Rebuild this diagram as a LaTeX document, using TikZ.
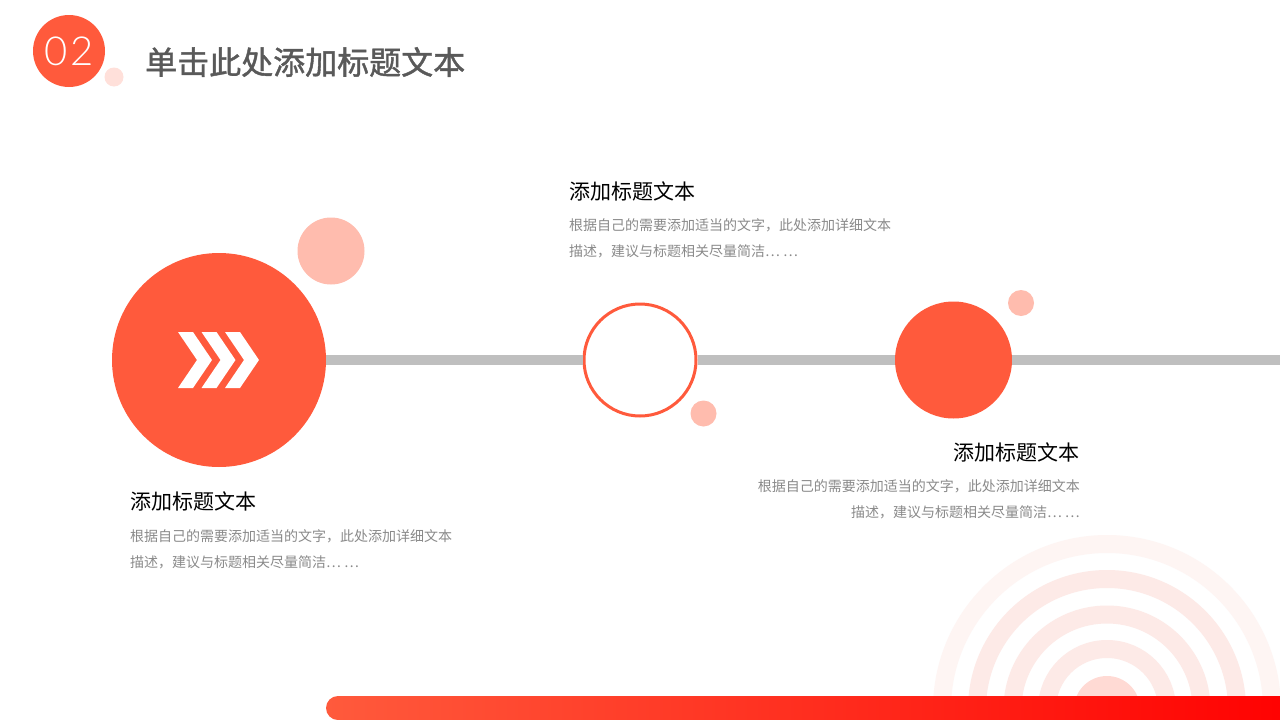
\documentclass[tikz,border=0pt]{standalone}
\usepackage{fontspec}
\setmainfont{Noto Sans CJK SC}
\newfontfamily\thinfont{Lato}[UprightFont=* Light]
\newfontfamily\titlefont{Noto Sans CJK SC}[FakeBold=1.3]
\definecolor{mainred}{HTML}{FF5A3C}
\definecolor{pinkA}{HTML}{FFBCAE}
\definecolor{pinkB}{HTML}{FFE0DA}
\definecolor{lineg}{HTML}{BFBFBF}
\definecolor{titleg}{HTML}{595959}
\definecolor{bodyg}{HTML}{8A8A8A}
\definecolor{ringA}{HTML}{FEF5F3}
\definecolor{ringB}{HTML}{FDEAE7}
\definecolor{diskc}{HTML}{FFDAD4}
\definecolor{barR}{HTML}{FF0000}
\tikzset{
  head/.style={font=\fontsize{21}{24}\selectfont, text=black, inner sep=0pt},
  body/.style={font=\fontsize{14}{26}\selectfont, text=bodyg, inner sep=0pt, align=left},
  bodyr/.style={font=\fontsize{14}{26}\selectfont, text=bodyg, inner sep=0pt, align=right},
  ring/.style={line width=18pt},
  dotc/.style={circle, inner sep=0pt}
}
\begin{document}
\begin{tikzpicture}[x=1pt,y=-1pt]
\useasboundingbox (0,0) rectangle (1280,720);
\fill[white] (0,0) rectangle (1280,720);
% concentric rings
\begin{scope}
\clip (900,500) rectangle (1280,720);
\draw[ring, ringA] (1107,709) circle (165);
\draw[ring, ringB] (1107,709) circle (130);
\draw[ring, ringB] (1107,709) circle (94.5);
\draw[ring, ringB] (1107,709) circle (60);
\fill[diskc] (1107,709) circle (33);
\end{scope}
% bottom bar
\shade[left color=mainred, right color=barR, rounded corners=12pt]
  (326,696) rectangle (1310,720);
% header
\node[dotc, fill=mainred, minimum size=72pt] (num) at (69,51) {};
\node[text=white, font=\thinfont\fontsize{40}{40}\selectfont, inner sep=0pt] (numt) at (69,51) {0\kern3pt 2};
\node[dotc, fill=pinkB, minimum size=19pt] (dot0) at (114,77) {};
\node[anchor=west, text=titleg, font=\titlefont\fontsize{32}{34}\selectfont, inner sep=0pt] (title) at (145,62) {单击此处添加标题文本};
% timeline
\coordinate (lineE) at (1280,360);
\node[dotc, fill=pinkA, minimum size=67pt] (p1) at (331,251) {};
\node[dotc, fill=mainred, minimum size=214pt] (c1) at (219,360) {};
\node[dotc, draw=mainred, line width=3pt, fill=white, minimum size=112pt] (c2) at (640,360) {};
\node[dotc, fill=mainred, minimum size=117pt] (c3) at (953.5,360) {};
\draw[lineg, line width=10pt] (c1.east) -- (c2.west);
\draw[lineg, line width=10pt] (c2.east) -- (c3.west);
\draw[lineg, line width=10pt] (c3.east) -- (lineE);
\node[dotc, fill=pinkA, minimum size=26pt] (p2) at (703.5,413.5) {};
\node[dotc, fill=pinkA, minimum size=26pt] (p3) at (1021,303) {};
% chevrons
\foreach \dx in {0,23.5,47}{
  \fill[white, shift={(\dx,0)}] (178,332) -- (193,332) -- (212,360) -- (193,388) -- (178,388) -- (197,360) -- cycle;
}
% texts
\node[head, anchor=west] (h2) at (569,191) {添加标题文本};
\node[body, anchor=north west] (b2) at (569,218) {根据自己的需要添加适当的文字，此处添加详细文本\\描述，建议与标题相关尽量简洁… …};
\node[head, anchor=east] (h3) at (1080,452) {添加标题文本};
\node[bodyr, anchor=north east] (b3) at (1080,479) {根据自己的需要添加适当的文字，此处添加详细文本\\描述，建议与标题相关尽量简洁… …};
\node[head, anchor=west] (h1) at (130,501) {添加标题文本};
\node[body, anchor=north west] (b1) at (130,529) {根据自己的需要添加适当的文字，此处添加详细文本\\描述，建议与标题相关尽量简洁… …};
\end{tikzpicture}
\end{document}
